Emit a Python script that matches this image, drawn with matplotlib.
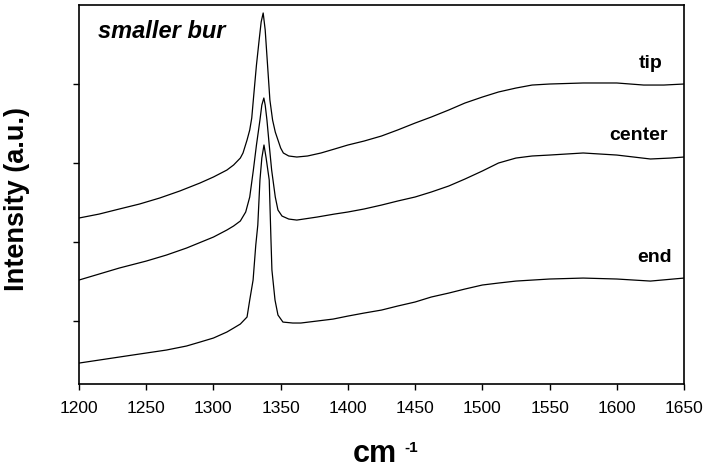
"""
Raman spectra of the smaller bur: tip, center and end positions,
stacked with vertical offsets.
"""

import matplotlib
matplotlib.use('Agg')
import matplotlib.pyplot as plt

plt.rcParams['font.family'] = ['Liberation Sans', 'DejaVu Sans']

# Raman shift (cm^-1) and offset intensity (a.u.) for each position
tip_shift = [1200, 1215, 1230, 1245, 1260, 1275, 1290, 1300, 1310, 1315,
             1320, 1322, 1325, 1327, 1328.5, 1330, 1332, 1334, 1335.5,
             1337, 1338.5, 1340, 1342, 1344, 1346, 1348, 1350, 1352, 1356,
             1362, 1370, 1380, 1390, 1400, 1412, 1425, 1437, 1450, 1462,
             1475, 1487, 1500, 1512, 1525, 1537, 1550, 1575, 1600, 1620,
             1635, 1650]
tip_int = [1304, 1354, 1418, 1481, 1557, 1646, 1747, 1823, 1911, 1975,
           2063, 2127, 2291, 2418, 2570, 2861, 3240, 3557, 3785,
           3899, 3684, 3304, 2797, 2544, 2392, 2291, 2190, 2127, 2089,
           2076, 2089, 2127, 2177, 2228, 2278, 2342, 2418, 2506, 2582,
           2671, 2759, 2835, 2899, 2949, 2987, 3000, 3013, 3013, 2987,
           2987, 3000]

center_shift = [1200, 1215, 1230, 1250, 1265, 1280, 1300, 1310, 1315,
                1320, 1324, 1327, 1329.7, 1332, 1334.6, 1336, 1337.5,
                1338.5, 1339.8, 1341.5, 1343.3, 1346, 1348, 1351, 1356,
                1362, 1377, 1390, 1400, 1412, 1425, 1437, 1450, 1462, 1475,
                1487, 1500, 1512, 1525, 1537, 1550, 1575, 1600, 1625, 1640,
                1650]
center_int = [519, 595, 671, 759, 835, 924, 1063, 1152, 1203,
              1266, 1380, 1570, 1911, 2228, 2544, 2734, 2823,
              2734, 2544, 2228, 1911, 1570, 1405, 1329, 1291,
              1278, 1316, 1354, 1380, 1418, 1468, 1519, 1570, 1633, 1709,
              1797, 1899, 2000, 2063, 2089, 2101, 2127, 2101, 2051, 2063,
              2076]

end_shift = [1200, 1220, 1240, 1265, 1280, 1290, 1300, 1310, 1315, 1320,
             1325, 1327, 1329.5, 1331.5, 1333, 1334.6, 1336, 1337.6, 1339.2,
             1341.5, 1342.8, 1343.5, 1345.8, 1348, 1351.7, 1359, 1365, 1377,
             1389, 1400, 1412, 1425, 1437, 1450, 1462, 1475, 1487, 1500,
             1512, 1525, 1550, 1575, 1600, 1625, 1650]
end_int = [-532, -481, -430, -367, -316, -266, -215, -139, -89, -38,
           51, 266, 519, 962, 1215, 1785, 2063, 2228, 2063,
           1785, 1025, 646, 266, 76, -13, -25, -25, 0,
           25, 63, 101, 139, 190, 241, 304, 354, 405, 456,
           481, 506, 532, 544, 532, 506, 544]

spectra = [
    ('tip', tip_shift, tip_int),
    ('center', center_shift, center_int),
    ('end', end_shift, end_int),
]

# label anchor (right edge, baseline) for each spectrum
label_pos = {'tip': (1634, 3202), 'center': (1638, 2291), 'end': (1641, 747)}

x_ticks = [1200, 1250, 1300, 1350, 1400, 1450, 1500, 1550, 1600, 1650]
y_ticks = [0, 1000, 2000, 3000]


def plot_spectra(save_path):
    fig = plt.figure(figsize=(7.07, 4.72), dpi=100)
    ax = fig.add_axes([0.1117, 0.1864, 0.8558, 0.8030])

    for name, shift, intensity in spectra:
        ax.plot(shift, intensity, color='black', lw=0.9)
        lx, ly = label_pos[name]
        ax.text(lx, ly, name, ha='right', va='baseline',
                fontsize=14, fontweight='bold')

    ax.text(1214, 3582, 'smaller bur', ha='left', va='baseline',
            fontsize=17, fontweight='bold', style='italic')

    ax.set_xlim(1200, 1650)
    ax.set_ylim(-797, 4000)
    ax.set_xticks(x_ticks)
    ax.set_yticks(y_ticks)
    ax.set_yticklabels([])
    ax.tick_params(direction='out', length=4.5, width=1.0,
                   labelsize=12.5, pad=8)
    for spine in ax.spines.values():
        spine.set_linewidth(1.2)

    # axis titles
    fig.text(397 / 707, 1 - 462 / 472, 'cm', ha='right', va='baseline',
             fontsize=22, fontweight='bold')
    fig.text(404 / 707, 1 - 441 / 472, '-1', ha='left', va='top',
             fontsize=11, fontweight='bold')
    fig.text(17 / 707, 1 - 199 / 472, 'Intensity (a.u.)', rotation=90,
             ha='center', va='center', fontsize=19.5, fontweight='bold')

    fig.savefig(save_path, dpi=100)
    plt.close(fig)


if __name__ == '__main__':
    plot_spectra('out.png')
